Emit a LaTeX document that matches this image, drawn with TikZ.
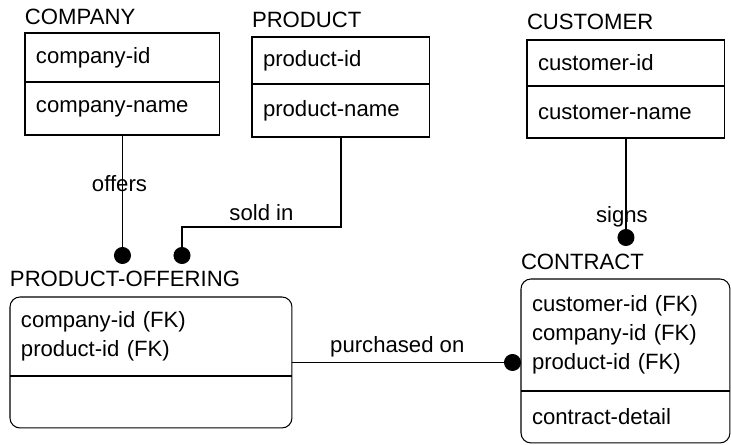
\documentclass[tikz,border=0pt]{standalone}
\usepackage{fontspec}
\setmainfont{Liberation Sans}
\usetikzlibrary{positioning,arrows.meta}
\newcommand{\erfont}{\fontsize{12.6}{16.5}\selectfont}

\begin{document}
\begin{tikzpicture}[x=0.02cm,y=-0.02cm,
font=\erfont,line width=0.6pt,outer sep=0pt,
title/.style={inner sep=0pt,anchor=base west},
attrbox/.style={draw,rectangle,inner xsep=0.22cm,align=left,anchor=north west},
depbox/.style={draw,rectangle,rounded corners=0.2cm,anchor=north west},
part/.style={rectangle,inner xsep=0.22cm,align=left,anchor=north west},
rel/.style={-{Circle[length=0.34cm]}}]
\useasboundingbox (0,0) rectangle (731,445);

% independent entities
\node (companykey) [attrbox,text width=3.46cm,minimum height=0.98cm] at (25,33) {company-id};
\node (companyattr) [attrbox,text width=3.46cm,minimum height=1.06cm,below=0cm of companykey] {company-name};
\node (companytitle) [title,above=0.16cm of companykey.north west,anchor=base west] {COMPANY};

\node (productkey) [attrbox,text width=3.12cm,minimum height=0.94cm] at (252,37) {product-id};
\node (productattr) [attrbox,text width=3.12cm,minimum height=1.06cm,below=0cm of productkey] {product-name};
\node (producttitle) [title,above=0.18cm of productkey.north west,anchor=base west] {PRODUCT};

\node (customerkey) [attrbox,text width=3.52cm,minimum height=0.92cm] at (527,40) {customer-id};
\node (customerattr) [attrbox,text width=3.52cm,minimum height=1.04cm,below=0cm of customerkey] {customer-name};
\node (customertitle) [title,above=0.2cm of customerkey.north west,anchor=base west] {CUSTOMER};

% dependent entities
\node (offering) [depbox,minimum width=5.64cm,minimum height=2.62cm] at (10,297) {};
\node (offeringkeys) [part,text width=5.2cm,minimum height=1.58cm] at (offering.north west) {company-id (FK)\\product-id (FK)};
\draw (offeringkeys.south west) -- (offeringkeys.south east);
\node (offeringtitle) [title,above=0.2cm of offering.north west,anchor=base west] {PRODUCT-OFFERING};

\node (contract) [depbox,minimum width=4.18cm,minimum height=3.28cm] at (521,279) {};
\node (contractkeys) [part,text width=3.74cm,minimum height=2.24cm] at (contract.north west) {customer-id (FK)\\company-id (FK)\\product-id (FK)};
\draw (contractkeys.south west) -- (contractkeys.south east);
\node (contractattr) [part,text width=3.74cm,minimum height=1.04cm,below=0cm of contractkeys] {contract-detail};
\node (contracttitle) [title,above=0.18cm of contract.north west,anchor=base west] {CONTRACT};

% relationships
\coordinate (offersend) at (122,264);
\coordinate (soldbend) at (182,227);
\coordinate (soldend) at (182,264);
\coordinate (signsend) at (626,246);

\draw[rel] (companyattr.south) -- (companyattr.south |- offersend) node[pos=0.38,xshift=-0.06cm] {offers};
\draw[rel] (productattr.south) |- (soldbend) node[pos=0.75,above] {sold in} -- (soldend);
\draw[rel] (customerattr.south) -- (customerattr.south |- signsend) node[pos=0.73,xshift=-0.08cm] {signs};
\draw[rel] (offering.east) -- (offering.east -| contract.west) node[pos=0.46,above] {purchased on};
\end{tikzpicture}
\end{document}
